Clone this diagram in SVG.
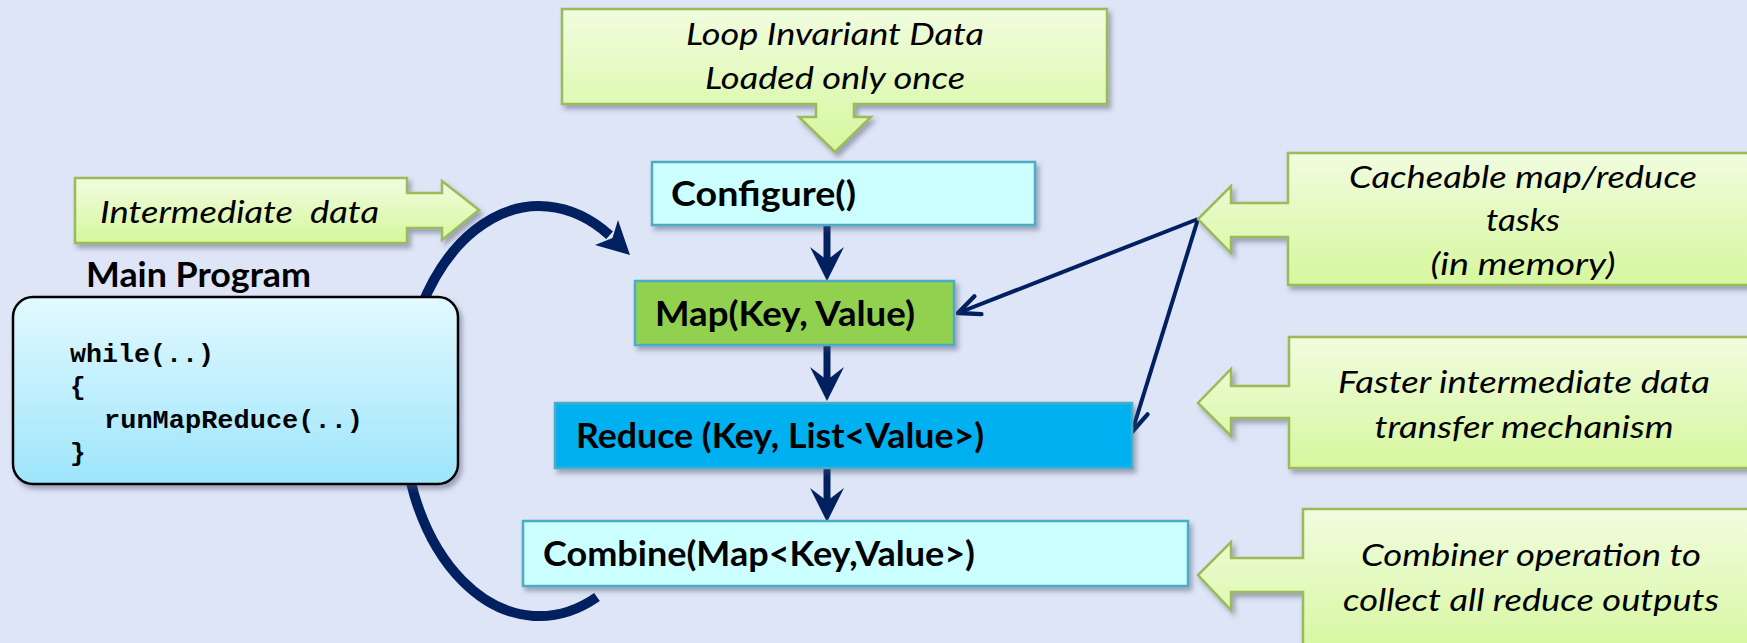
<svg xmlns="http://www.w3.org/2000/svg" width="1747" height="643" viewBox="0 0 1747 643">
  <defs>
    <style>
      .bg { fill: #dde5f6; }
      .step { stroke: #4bacc6; stroke-width: 2.5; filter: url(#shadow); }
      .cyan { fill: #ccffff; }
      .green { fill: #92d050; }
      .blue { fill: #00b0f0; }
      .label { font-family: Lato, "Open Sans", "Liberation Sans", sans-serif; font-weight: bold; font-size: 35px; fill: #000; }
      .note { font-family: Lato, "Open Sans", "Liberation Sans", sans-serif; font-style: italic; font-size: 31px; fill: #000; text-anchor: middle; }
      .callout { fill: url(#calloutFill); stroke: #9bbb59; stroke-width: 2.5; stroke-linejoin: miter; filter: url(#shadow); }
      .code { font-family: "Liberation Mono", "Courier New", monospace; font-weight: bold; font-size: 26px; fill: #000; }
      .flow { stroke: #002060; stroke-width: 7; fill: none; }
      .thin { stroke: #002060; stroke-width: 4; fill: none; marker-end: url(#openHead); }
      .loop { stroke: #002060; stroke-width: 10; fill: none; }
      .navy { fill: #002060; }
    </style>
    <linearGradient id="calloutFill" x1="0" y1="0" x2="0" y2="1">
      <stop offset="0" stop-color="#f1fcdf"/>
      <stop offset="1" stop-color="#d6f79d"/>
    </linearGradient>
    <linearGradient id="mainFill" x1="0" y1="0" x2="0" y2="1">
      <stop offset="0" stop-color="#e2f9ff"/>
      <stop offset="1" stop-color="#9de5fb"/>
    </linearGradient>
    <filter id="shadow" x="-10%" y="-10%" width="125%" height="130%">
      <feDropShadow dx="3" dy="4" stdDeviation="2.5" flood-color="#4a4a6a" flood-opacity="0.45"/>
    </filter>
    <marker id="openHead" markerUnits="userSpaceOnUse" markerWidth="30" markerHeight="30" refX="0" refY="0" orient="auto" viewBox="-24 -12 28 24" overflow="visible">
      <path d="M -20 -9 L 0 0 L -20 9" stroke="#002060" stroke-width="4" fill="none" stroke-linejoin="round" stroke-linecap="round"/>
    </marker>
    <!-- thick arrowhead pointing down, tip at origin -->
    <path id="downHead" d="M 0 0 L -17 -34 L 0 -21 L 17 -34 Z"/>
  </defs>

  <rect class="bg" x="0" y="0" width="1747" height="643"/>

  <!-- Loop-invariant data callout (down arrow) -->
  <g id="loop-invariant">
    <path class="callout" d="M 562 9 H 1107 V 104 H 854 V 117 H 871 L 835 152 L 799 117 H 816 V 104 H 562 Z"/>
    <text class="note" x="835" y="45" textLength="298" lengthAdjust="spacingAndGlyphs">Loop Invariant Data</text>
    <text class="note" x="835" y="89" textLength="260" lengthAdjust="spacingAndGlyphs">Loaded only once</text>
  </g>

  <!-- Intermediate data callout (right arrow) -->
  <g id="intermediate-data">
    <path class="callout" d="M 75 178 H 407 V 193 H 442 V 181 L 479 210 L 442 240 V 228 H 407 V 243 H 75 Z"/>
    <text class="note" x="239.5" y="223" font-size="33" textLength="279" lengthAdjust="spacingAndGlyphs" style="white-space:pre">Intermediate  data</text>
  </g>

  <!-- Connectors -->
  <g id="connectors">
    <!-- iteration loop from Combine back to Map -->
    <path class="loop" d="M 597 597 A 137 205 0 1 1 609.6 235.2"/>
    <polygon class="navy" points="630,255 595,245 612.5,238 618,220"/>

    <!-- pipeline steps -->
    <line class="flow" x1="827" y1="225" x2="827" y2="262"/>
    <use href="#downHead" class="navy" x="827" y="281"/>
    <line class="flow" x1="827" y1="346" x2="827" y2="382"/>
    <use href="#downHead" class="navy" x="827" y="401"/>
    <line class="flow" x1="827" y1="468" x2="827" y2="503"/>
    <use href="#downHead" class="navy" x="827" y="522"/>

    <!-- cacheable tasks pointers -->
    <line class="thin" x1="1198" y1="219" x2="958" y2="313"/>
    <line class="thin" x1="1198" y1="219" x2="1132" y2="432"/>
  </g>

  <!-- Main program -->
  <g id="main-program">
    <text class="label" x="86" y="287" font-size="36" textLength="225" lengthAdjust="spacingAndGlyphs">Main Program</text>
    <rect x="13" y="297" width="445" height="187" rx="20" ry="20" fill="url(#mainFill)" stroke="#000" stroke-width="2.5" filter="url(#shadow)"/>
    <text class="code" x="70" y="362" textLength="144" lengthAdjust="spacingAndGlyphs">while(..)</text>
    <text class="code" x="70" y="395">{</text>
    <text class="code" x="104" y="428" textLength="259" lengthAdjust="spacingAndGlyphs">runMapReduce(..)</text>
    <text class="code" x="70" y="461">}</text>
  </g>

  <!-- Pipeline steps -->
  <g id="configure">
    <rect class="step cyan" x="652" y="162" width="383" height="63"/>
    <text class="label" x="671" y="206" textLength="185" lengthAdjust="spacingAndGlyphs">Configure()</text>
  </g>
  <g id="map">
    <rect class="step green" x="635" y="281" width="319" height="64"/>
    <text class="label" x="655" y="326" textLength="260" lengthAdjust="spacingAndGlyphs">Map(Key, Value)</text>
  </g>
  <g id="reduce">
    <rect class="step blue" x="555" y="403" width="577" height="65" stroke="#3aa6d4"/>
    <text class="label" x="576" y="448" textLength="408" lengthAdjust="spacingAndGlyphs">Reduce (Key, List&lt;Value&gt;)</text>
  </g>
  <g id="combine">
    <rect class="step cyan" x="523" y="521" width="665" height="65"/>
    <text class="label" x="543" y="566" textLength="432" lengthAdjust="spacingAndGlyphs">Combine(Map&lt;Key,Value&gt;)</text>
  </g>

  <!-- Feature callouts (left arrows) -->
  <g id="cacheable-tasks">
    <path class="callout" d="M 1760 153 H 1288 V 203 H 1231 V 186 L 1198 219 L 1231 253 V 237 H 1288 V 285 H 1760"/>
    <text class="note" x="1523" y="188" textLength="348" lengthAdjust="spacingAndGlyphs">Cacheable map/reduce</text>
    <text class="note" x="1523" y="231" textLength="74" lengthAdjust="spacingAndGlyphs">tasks</text>
    <text class="note" x="1523" y="275" textLength="185" lengthAdjust="spacingAndGlyphs">(in memory)</text>
  </g>
  <g id="faster-transfer">
    <path class="callout" d="M 1760 337 H 1289 V 386 H 1231 V 369 L 1198 403 L 1231 436 V 418 H 1289 V 468 H 1760"/>
    <text class="note" x="1524" y="393" textLength="372" lengthAdjust="spacingAndGlyphs">Faster intermediate data</text>
    <text class="note" x="1524" y="438" textLength="299" lengthAdjust="spacingAndGlyphs">transfer mechanism</text>
  </g>
  <g id="combiner">
    <path class="callout" d="M 1760 509 H 1303 V 558 H 1231 V 542 L 1198 575 L 1231 610 V 592 H 1303 V 660 H 1760"/>
    <text class="note" x="1531" y="566" textLength="340" lengthAdjust="spacingAndGlyphs">Combiner operation to</text>
    <text class="note" x="1531" y="611" textLength="376" lengthAdjust="spacingAndGlyphs">collect all reduce outputs</text>
  </g>
</svg>
